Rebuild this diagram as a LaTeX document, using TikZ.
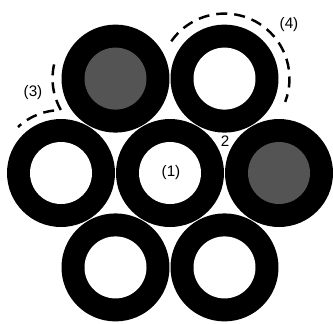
\documentclass[tikz,border=0pt]{standalone}
\usepackage{fontspec}
\setmainfont{Liberation Sans}
\begin{document}
\begin{tikzpicture}[x=0.03cm,y=0.03cm,
    tube/.style={fill=black},
    bore/.style={fill=white},
    plugged/.style={fill=black!67},
    marker/.style={line width=2.1pt,dash pattern=on 9.4pt off 6pt},
    tag/.style={font=\fontsize{13}{15}\selectfont,inner sep=0pt}]
                \useasboundingbox (0,0) rectangle (333,323);
                \coordinate (CenterTube) at (170,150);
                \coordinate (LeftTube) at (61,150);
                \coordinate (RightTube) at (279,150);
                \coordinate (TopLeftTube) at (115.5,244.4);
                \coordinate (TopRightTube) at (224.5,244.4);
                \coordinate (BottomLeftTube) at (115.5,55.6);
                \coordinate (BottomRightTube) at (224.5,55.6);

                \fill[tube] (CenterTube) circle[radius=54];
                \fill[tube] (LeftTube) circle[radius=54];
                \fill[tube] (RightTube) circle[radius=54];
                \fill[tube] (TopLeftTube) circle[radius=54];
                \fill[tube] (TopRightTube) circle[radius=54];
                \fill[tube] (BottomLeftTube) circle[radius=54];
                \fill[tube] (BottomRightTube) circle[radius=54];

                \fill[bore] (CenterTube) circle[radius=31];
                \fill[bore] (LeftTube) circle[radius=31];
                \fill[plugged] (RightTube) circle[radius=31];
                \fill[plugged] (TopLeftTube) circle[radius=31];
                \fill[bore] (TopRightTube) circle[radius=31];
                \fill[bore] (BottomLeftTube) circle[radius=31];
                \fill[bore] (BottomRightTube) circle[radius=31];

                \draw[marker] ([shift={(145:65)}]TopRightTube) arc[start angle=145,end angle=-21,radius=65];
                \draw[marker] ([shift={(167:63)}]TopLeftTube) arc[start angle=167,end angle=210,radius=63]
                    arc[start angle=90,end angle=133,radius=63];

                \node[tag] (LabelOne) at (171,150) {(1)};
                \node[tag] (LabelTwo) at (225,182) {2};
                \node[tag] (LabelThree) at (33,230) {(3)};
                \node[tag] (LabelFour) at (289,298) {(4)};
            \end{tikzpicture}
\end{document}
